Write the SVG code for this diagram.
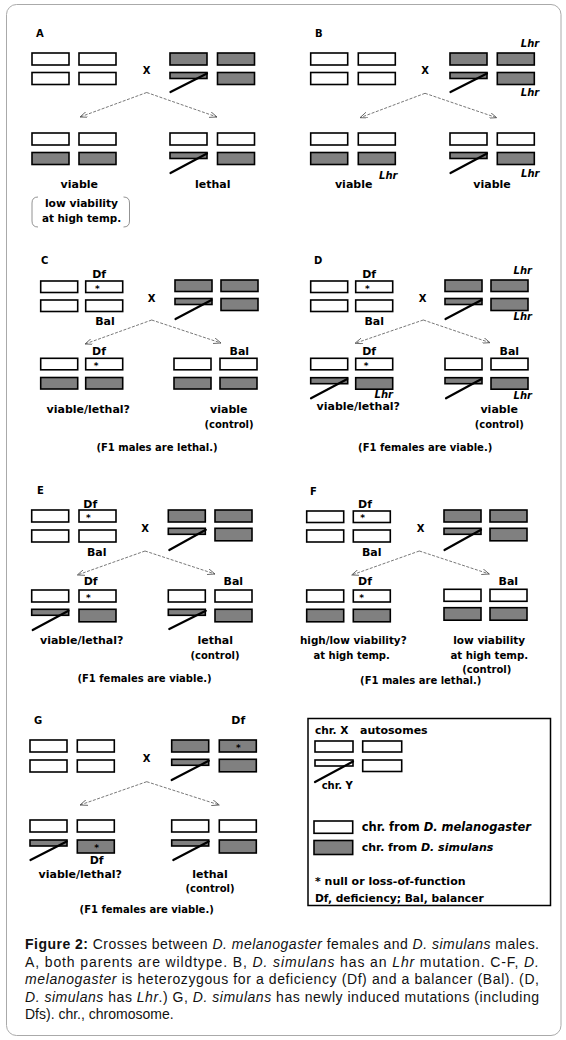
<svg xmlns="http://www.w3.org/2000/svg" width="566" height="1040" viewBox="0 0 566 1040">
<style>
.w{fill:#fff;stroke:#000;stroke-width:1.6}
.g{fill:#808080;stroke:#000;stroke-width:1.6}
.y{stroke:#000;stroke-width:2.2;stroke-linecap:round;fill:none}
.ar{stroke:#555;stroke-width:0.8;stroke-dasharray:3 1.5;fill:none;marker-end:url(#ah)}
.t{font-family:"DejaVu Sans",sans-serif;font-weight:bold;font-size:11px;text-anchor:middle;fill:#000}
.p{font-size:10px;text-anchor:start}
.x{font-size:10px}
.st{font-size:9px}
.ct{font-size:10px}
.f1{font-size:10px}
.lhr{font-style:italic;font-size:10px}
.lg{font-family:"DejaVu Sans",sans-serif;font-weight:bold;font-size:11px;fill:#000}
.cap{font-family:"Liberation Sans",Arial,sans-serif;font-size:14px;fill:#111}
.br{fill:none;stroke:#777;stroke-width:0.8}
</style>
<defs>
<marker id="ah" markerWidth="8" markerHeight="6" refX="7.5" refY="3" orient="auto" markerUnits="userSpaceOnUse">
<path d="M0,0 L7.5,3 L0,6" fill="none" stroke="#555" stroke-width="0.8"/>
</marker>
</defs>
<rect x="6.5" y="4.5" width="554.5" height="1031" rx="10" fill="#fff" stroke="#aaa" stroke-width="1"/>

<g id="connectors">
<path class="ar" d="M146.7,92.5 L80,117"/>
<path class="ar" d="M146.7,92.5 L217,117"/>
<path class="ar" d="M425,93.3 L360,117.7"/>
<path class="ar" d="M425,93.3 L496.7,117.7"/>
<path class="ar" d="M151.7,320 L85,344"/>
<path class="ar" d="M151.7,320 L221,343"/>
<path class="ar" d="M423.3,320 L355,343.3"/>
<path class="ar" d="M423.3,320 L490,342.7"/>
<path class="ar" d="M145,551 L77.3,575"/>
<path class="ar" d="M145,551 L215,574"/>
<path class="ar" d="M419.3,551 L351.7,575"/>
<path class="ar" d="M419.3,551 L489.3,574"/>
<path class="ar" d="M146.7,781.7 L80,805"/>
<path class="ar" d="M146.7,781.7 L219.3,805"/>
</g>

<!-- Panel A -->
<g id="A-female">
<text class="t p" x="36" y="37">A</text>
<rect class="w" x="32" y="53" width="37" height="12"/><rect class="w" x="79" y="53" width="37" height="12"/>
<rect class="w" x="32" y="72.5" width="37" height="12"/><rect class="w" x="79" y="72.5" width="37" height="12"/>
</g>
<text class="t x" x="146.7" y="74">X</text>
<g id="A-male">
<rect class="g" x="170" y="53" width="37" height="12"/><rect class="g" x="217.5" y="53" width="37" height="12"/>
<rect class="g" x="170" y="72.5" width="37" height="6"/><rect class="g" x="217.5" y="72.5" width="37" height="12"/>
<path class="y" d="M207,73.5 L170.5,92"/>
</g>
<g id="A-daughter">
<rect class="w" x="32" y="133" width="37" height="12"/><rect class="w" x="79" y="133" width="37" height="12"/>
<rect class="g" x="32" y="152.5" width="37" height="12"/><rect class="g" x="79" y="152.5" width="37" height="12"/>
<text class="t" x="79.3" y="188">viable</text>
<path class="br" d="M38,197 Q32,197 32,203 L32,221 Q32,227 38,227"/>
<path class="br" d="M123.5,197 Q129.5,197 129.5,203 L129.5,221 Q129.5,227 123.5,227"/>
<text class="t" x="81.5" y="206.5" style="font-size:10.7px">low viability</text>
<text class="t" x="81.5" y="222" style="font-size:10.4px">at high temp.</text>
</g>
<g id="A-son">
<rect class="w" x="170" y="133" width="37" height="12"/><rect class="w" x="217.5" y="133" width="37" height="12"/>
<rect class="g" x="170" y="152.5" width="37" height="6"/><rect class="g" x="217.5" y="152.5" width="37" height="12"/>
<path class="y" d="M207,153.5 L170.5,173"/>
<text class="t" x="212.7" y="188">lethal</text>
</g>

<!-- Panel B -->
<g id="B-female">
<text class="t p" x="315" y="37">B</text>
<rect class="w" x="310.7" y="53" width="37" height="12"/><rect class="w" x="358.3" y="53" width="37" height="12"/>
<rect class="w" x="310.7" y="72.5" width="37" height="12"/><rect class="w" x="358.3" y="72.5" width="37" height="12"/>
</g>
<text class="t x" x="425" y="74">X</text>
<g id="B-male">
<text class="t lhr" x="530" y="46.5">Lhr</text>
<rect class="g" x="450" y="53" width="37" height="12"/><rect class="g" x="497.3" y="53" width="37" height="12"/>
<rect class="g" x="450" y="72.5" width="37" height="6"/><rect class="g" x="497.3" y="72.5" width="37" height="12"/>
<path class="y" d="M487,73.5 L450.5,92"/>
<text class="t lhr" x="530" y="95.5">Lhr</text>
</g>
<g id="B-daughter">
<rect class="w" x="310.7" y="133" width="37" height="12"/><rect class="w" x="358.3" y="133" width="37" height="12"/>
<rect class="g" x="310.7" y="152.5" width="37" height="12"/><rect class="g" x="358.3" y="152.5" width="37" height="12"/>
<text class="t lhr" x="388.3" y="178.5">Lhr</text>
<text class="t" x="353.7" y="188">viable</text>
</g>
<g id="B-son">
<rect class="w" x="450" y="133" width="37" height="12"/><rect class="w" x="497.3" y="133" width="37" height="12"/>
<rect class="g" x="450" y="152.5" width="37" height="6"/><rect class="g" x="497.3" y="152.5" width="37" height="12"/>
<path class="y" d="M487,153.5 L450.5,173"/>
<text class="t lhr" x="530.3" y="177">Lhr</text>
<text class="t" x="492" y="188">viable</text>
</g>

<!-- Panel C -->
<g id="C-female">
<text class="t p" x="41" y="264">C</text>
<text class="t" x="99.2" y="278">Df</text>
<rect class="w" x="40.7" y="281" width="37" height="11.5"/><rect class="w" x="85.7" y="281" width="37" height="11.5"/>
<text class="t st" x="97.3" y="291.5">*</text>
<rect class="w" x="40.7" y="300" width="37" height="11.5"/><rect class="w" x="85.7" y="300" width="37" height="11.5"/>
<text class="t" x="105" y="325">Bal</text>
</g>
<text class="t x" x="151.7" y="301.5">X</text>
<g id="C-male">
<rect class="g" x="175" y="280" width="37" height="11.5"/><rect class="g" x="221" y="280" width="37" height="11.5"/>
<rect class="g" x="175" y="298.5" width="37" height="6"/><rect class="g" x="221" y="298.5" width="37" height="12"/>
<path class="y" d="M211.5,300 L175.5,319"/>
</g>
<g id="C-daughter-Df">
<text class="t" x="99" y="355">Df</text>
<rect class="w" x="40.7" y="358.3" width="37" height="11.5"/><rect class="w" x="85.7" y="358.3" width="37" height="11.5"/>
<text class="t st" x="96" y="368.5">*</text>
<rect class="g" x="40.7" y="377.5" width="37" height="11.5"/><rect class="g" x="85.7" y="377.5" width="37" height="11.5"/>
<text class="t" x="88.3" y="413">viable/lethal?</text>
</g>
<g id="C-daughter-Bal">
<text class="t" x="239.3" y="355">Bal</text>
<rect class="w" x="174" y="358.3" width="37" height="11.5"/><rect class="w" x="220" y="358.3" width="37" height="11.5"/>
<rect class="g" x="174" y="377.5" width="37" height="11.5"/><rect class="g" x="220" y="377.5" width="37" height="11.5"/>
<text class="t" x="228.8" y="413">viable</text>
<text class="t ct" x="229" y="428">(control)</text>
</g>
<text class="t f1" x="157" y="450.5">(F1 males are lethal.)</text>

<!-- Panel D -->
<g id="D-female">
<text class="t p" x="314" y="264">D</text>
<text class="t" x="369.2" y="278">Df</text>
<rect class="w" x="310.7" y="281" width="37" height="11.5"/><rect class="w" x="355.7" y="281" width="37" height="11.5"/>
<text class="t st" x="367.3" y="291.5">*</text>
<rect class="w" x="310.7" y="300" width="37" height="11.5"/><rect class="w" x="355.7" y="300" width="37" height="11.5"/>
<text class="t" x="374.2" y="325">Bal</text>
</g>
<text class="t x" x="422.7" y="301.5">X</text>
<g id="D-male">
<text class="t lhr" x="522.8" y="274">Lhr</text>
<rect class="g" x="445" y="280" width="37" height="11.5"/><rect class="g" x="491" y="280" width="37" height="11.5"/>
<rect class="g" x="445" y="298.5" width="37" height="6"/><rect class="g" x="491" y="298.5" width="37" height="12"/>
<path class="y" d="M481.5,300 L445.5,319"/>
<text class="t lhr" x="522.8" y="320">Lhr</text>
</g>
<g id="D-son-Df">
<text class="t" x="369.2" y="355">Df</text>
<rect class="w" x="310.7" y="358.3" width="37" height="11.5"/><rect class="w" x="355.7" y="358.3" width="37" height="11.5"/>
<text class="t st" x="366" y="368.5">*</text>
<rect class="g" x="310.7" y="377.7" width="37" height="6"/><rect class="g" x="355.7" y="377.7" width="37" height="11.5"/>
<path class="y" d="M347.3,379 L311,398.3"/>
<text class="t lhr" x="383.8" y="398">Lhr</text>
<text class="t" x="358.3" y="409.5">viable/lethal?</text>
</g>
<g id="D-son-Bal">
<text class="t" x="509.3" y="355">Bal</text>
<rect class="w" x="445" y="358.3" width="37" height="11.5"/><rect class="w" x="491" y="358.3" width="37" height="11.5"/>
<rect class="g" x="445" y="377.7" width="37" height="6"/><rect class="g" x="491" y="377.7" width="37" height="11.5"/>
<path class="y" d="M481.5,379 L446,398.3"/>
<text class="t lhr" x="522.8" y="399">Lhr</text>
<text class="t" x="499.2" y="413">viable</text>
<text class="t ct" x="499.2" y="428">(control)</text>
</g>
<text class="t f1" x="425.2" y="450.5">(F1 females are viable.)</text>

<!-- Panel E -->
<g id="E-female">
<text class="t p" x="37" y="494">E</text>
<text class="t" x="90.3" y="508">Df</text>
<rect class="w" x="31.7" y="510" width="37" height="12"/><rect class="w" x="79" y="510" width="37" height="12"/>
<text class="t st" x="88.3" y="521">*</text>
<rect class="w" x="31.7" y="530" width="37" height="12"/><rect class="w" x="79" y="530" width="37" height="12"/>
<text class="t" x="96.7" y="555.5">Bal</text>
</g>
<text class="t x" x="145" y="531.5">X</text>
<g id="E-male">
<rect class="g" x="168.3" y="510" width="37" height="12"/><rect class="g" x="215" y="510" width="37" height="12"/>
<rect class="g" x="168.3" y="528.3" width="37" height="6"/><rect class="g" x="215" y="528.3" width="37" height="12.5"/>
<path class="y" d="M205.8,529.8 L169.3,550"/>
</g>
<g id="E-son-Df">
<text class="t" x="90.7" y="585">Df</text>
<rect class="w" x="31.7" y="590" width="37" height="12"/><rect class="w" x="79" y="590" width="37" height="12"/>
<text class="t st" x="88.3" y="600.5">*</text>
<rect class="g" x="31.7" y="609.3" width="37" height="6"/><rect class="g" x="79" y="609.3" width="37" height="12.5"/>
<path class="y" d="M68.5,610.8 L32.7,630"/>
<text class="t" x="81.7" y="644">viable/lethal?</text>
</g>
<g id="E-son-Bal">
<text class="t" x="233.3" y="585">Bal</text>
<rect class="w" x="168.3" y="590" width="37" height="12"/><rect class="w" x="215" y="590" width="37" height="12"/>
<rect class="g" x="168.3" y="609.3" width="37" height="6"/><rect class="g" x="215" y="609.3" width="37" height="12.5"/>
<path class="y" d="M205.8,610.8 L169.3,629"/>
<text class="t" x="215.3" y="644">lethal</text>
<text class="t ct" x="215" y="659">(control)</text>
</g>
<text class="t f1" x="144.5" y="682">(F1 females are viable.)</text>

<!-- Panel F -->
<g id="F-female">
<text class="t p" x="310" y="495">F</text>
<text class="t" x="365" y="508">Df</text>
<rect class="w" x="306.7" y="511" width="37" height="11.5"/><rect class="w" x="353.3" y="511" width="37" height="11.5"/>
<text class="t st" x="362.7" y="521">*</text>
<rect class="w" x="306.7" y="530" width="37" height="12"/><rect class="w" x="353.3" y="530" width="37" height="12"/>
<text class="t" x="371.7" y="555.5">Bal</text>
</g>
<text class="t x" x="420.7" y="531.5">X</text>
<g id="F-male">
<rect class="g" x="444" y="510" width="37" height="12"/><rect class="g" x="490" y="510" width="37" height="12"/>
<rect class="g" x="444" y="528.3" width="37" height="6"/><rect class="g" x="490" y="528.3" width="37" height="12.5"/>
<path class="y" d="M481,529.8 L444.5,550"/>
</g>
<g id="F-daughter-Df">
<text class="t" x="365" y="585">Df</text>
<rect class="w" x="306.7" y="590" width="37" height="12"/><rect class="w" x="353.3" y="590" width="37" height="12"/>
<text class="t st" x="361.7" y="600.5">*</text>
<rect class="g" x="306.7" y="609.3" width="37" height="12.5"/><rect class="g" x="353.3" y="609.3" width="37" height="12.5"/>
<text class="t" x="353.3" y="644" style="font-size:10.4px">high/low viability?</text>
<text class="t" x="351.7" y="659" style="font-size:10px">at high temp.</text>
</g>
<g id="F-daughter-Bal">
<text class="t" x="508.3" y="585">Bal</text>
<rect class="w" x="444" y="589.3" width="37" height="12"/><rect class="w" x="490" y="589.3" width="37" height="12"/>
<rect class="g" x="444" y="607.7" width="37" height="12.5"/><rect class="g" x="490" y="607.7" width="37" height="12.5"/>
<text class="t" x="489.2" y="644" style="font-size:10.5px">low viability</text>
<text class="t" x="489.3" y="659" style="font-size:10.2px">at high temp.</text>
<text class="t ct" x="486.8" y="673">(control)</text>
</g>
<text class="t f1" x="420.7" y="684">(F1 males are lethal.)</text>

<!-- Panel G -->
<g id="G-female">
<text class="t p" x="34" y="724">G</text>
<rect class="w" x="30" y="740" width="37" height="12"/><rect class="w" x="77.3" y="740" width="37" height="12"/>
<rect class="w" x="30" y="760" width="37" height="12"/><rect class="w" x="77.3" y="760" width="37" height="12"/>
</g>
<text class="t x" x="146.7" y="762">X</text>
<g id="G-male">
<text class="t" x="238.3" y="724">Df</text>
<rect class="g" x="171.7" y="740" width="37" height="12"/><rect class="g" x="219.3" y="740" width="37" height="12"/>
<text class="t st" x="238.3" y="750.5">*</text>
<rect class="g" x="171.7" y="759.3" width="37" height="6"/><rect class="g" x="219.3" y="759.3" width="37" height="12.5"/>
<path class="y" d="M208.7,760.8 L171.7,780"/>
</g>
<g id="G-daughter-Df">
<rect class="w" x="30" y="820" width="37" height="12"/><rect class="w" x="77.3" y="820" width="37" height="12"/>
<rect class="g" x="30" y="840" width="37" height="6"/><rect class="g" x="77.3" y="840" width="37" height="13"/>
<text class="t st" x="96.7" y="851">*</text>
<path class="y" d="M66.7,841.5 L30.5,860"/>
<text class="t" x="96.7" y="864">Df</text>
<text class="t" x="80.3" y="877.5">viable/lethal?</text>
</g>
<g id="G-daughter">
<rect class="w" x="171.7" y="820" width="37" height="12"/><rect class="w" x="219.3" y="820" width="37" height="12"/>
<rect class="g" x="171.7" y="840" width="37" height="6"/><rect class="g" x="219.3" y="840" width="37" height="13"/>
<path class="y" d="M208.7,841.5 L173.3,860"/>
<text class="t" x="210" y="877.5">lethal</text>
<text class="t ct" x="210" y="892">(control)</text>
</g>
<text class="t f1" x="146.7" y="913">(F1 females are viable.)</text>

<!-- Legend -->
<g id="legend">
<rect x="308" y="718.5" width="242.5" height="187" fill="#fff" stroke="#000" stroke-width="1.5"/>
<text class="lg" x="315" y="734" style="font-size:10.6px">chr. X</text>
<text class="lg" x="360" y="734">autosomes</text>
<rect class="w" x="315" y="741" width="38" height="11"/><rect class="w" x="362.7" y="741" width="39" height="11"/>
<rect class="w" x="315" y="760" width="38" height="6"/><rect class="w" x="362.7" y="760" width="39" height="11.5"/>
<path class="y" d="M353,761.5 L315,782"/>
<text class="lg" x="321.7" y="789" style="font-size:10px">chr. Y</text>
<rect class="w" x="314" y="821" width="38.7" height="12.3"/>
<text class="lg" x="361.7" y="831" style="font-size:11.5px">chr. from <tspan font-style="italic">D. melanogaster</tspan></text>
<rect class="g" x="314" y="840.5" width="38.7" height="14"/>
<text class="lg" x="361.7" y="850.5">chr. from <tspan font-style="italic">D. simulans</tspan></text>
<text class="lg" x="315" y="885">* null or loss-of-function</text>
<text class="lg" x="315" y="901.5" style="font-size:10.7px">Df, deficiency; Bal, balancer</text>
</g>

<!-- Caption -->
<g id="caption">
<text class="cap" x="25" y="949" textLength="514" lengthAdjust="spacing"><tspan font-weight="bold">Figure 2:</tspan> Crosses between <tspan font-style="italic">D. melanogaster</tspan> females and <tspan font-style="italic">D. simulans</tspan> males.</text>
<text class="cap" x="25" y="966.5" textLength="514" lengthAdjust="spacing">A, both parents are wildtype. B, <tspan font-style="italic">D. simulans</tspan> has an <tspan font-style="italic">Lhr</tspan> mutation. C-F, <tspan font-style="italic">D.</tspan></text>
<text class="cap" x="25" y="984" textLength="514" lengthAdjust="spacing"><tspan font-style="italic">melanogaster</tspan> is heterozygous for a deficiency (Df) and a balancer (Bal). (D,</text>
<text class="cap" x="25" y="1001.5" textLength="514" lengthAdjust="spacing"><tspan font-style="italic">D. simulans</tspan> has <tspan font-style="italic">Lhr</tspan>.) G, <tspan font-style="italic">D. simulans</tspan> has newly induced mutations (including</text>
<text class="cap" x="25" y="1019">Dfs). chr., chromosome.</text>
</g>
</svg>
